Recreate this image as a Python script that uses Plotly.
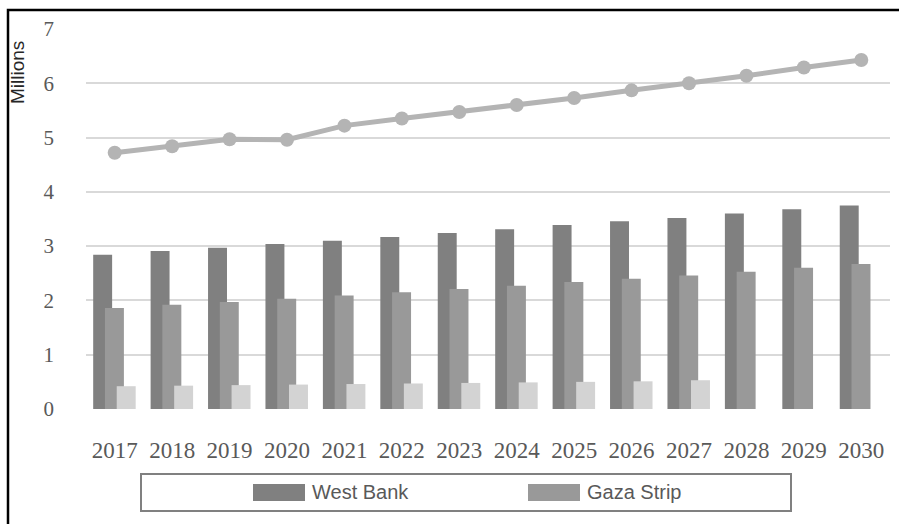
import plotly.graph_objects as go

# Population projections (millions)
years = [2017, 2018, 2019, 2020, 2021, 2022, 2023, 2024, 2025, 2026, 2027, 2028, 2029, 2030]
west_bank = [2.84, 2.91, 2.97, 3.04, 3.10, 3.17, 3.24, 3.31, 3.39, 3.46, 3.52, 3.60, 3.68, 3.75]
gaza_strip = [1.86, 1.92, 1.97, 2.03, 2.09, 2.15, 2.21, 2.27, 2.34, 2.40, 2.46, 2.53, 2.60, 2.67]
jerusalem_j1 = [0.42, 0.43, 0.44, 0.45, 0.46, 0.47, 0.48, 0.49, 0.50, 0.51, 0.53, None, None, None]
total = [4.72, 4.84, 4.97, 4.96, 5.22, 5.35, 5.47, 5.60, 5.73, 5.87, 6.00, 6.14, 6.29, 6.43]
y_ticks = [0, 1, 2, 3, 4, 5, 6, 7]

C_WB = "#808080"
C_GAZA = "#999999"
C_J1 = "#d3d3d3"
C_TOTAL = "#b4b4b4"
TEXT = "#595959"

W, H = 899, 524
L, R, T, B = 86, 9, 29, 115
PW, PH = W - L - R, H - T - B


def px_x(p):
    return (p - L) / PW


def px_y(p):
    return (H - B - p) / PH


fig = go.Figure()
bar_w = 0.33
for vals, col, off, name in [
    (west_bank, C_WB, -0.375, "West Bank"),
    (gaza_strip, C_GAZA, -0.17, "Gaza Strip"),
    (jerusalem_j1, C_J1, 0.035, "J1"),
]:
    fig.add_trace(go.Bar(
        x=years, y=vals, name=name, width=bar_w, offset=off,
        marker=dict(color=col, line=dict(width=0)),
        showlegend=False,
    ))

fig.add_trace(go.Scatter(
    x=years, y=total, name="Total", mode="lines+markers",
    line=dict(color=C_TOTAL, width=5),
    marker=dict(color=C_TOTAL, size=14),
    showlegend=False,
))

shapes = [
    # outer frame
    dict(type="rect", xref="paper", yref="paper",
         x0=px_x(8), x1=px_x(905), y0=px_y(530), y1=px_y(10),
         line=dict(color="black", width=2.5), layer="below"),
    # legend box
    dict(type="rect", xref="paper", yref="paper",
         x0=px_x(141), x1=px_x(791), y0=px_y(511), y1=px_y(474),
         line=dict(color="#808080", width=2), fillcolor="white"),
]
annotations = [
    dict(text="Millions", xref="paper", yref="paper", x=px_x(17), y=px_y(73),
         textangle=-90, showarrow=False, xanchor="center", yanchor="middle",
         font=dict(family="Liberation Sans, Arial", size=19, color="#262626")),
]

legend_items = [("West Bank", C_WB, 253), ("Gaza Strip", C_GAZA, 528)]
for label, col, sx in legend_items:
    shapes.append(dict(type="rect", xref="paper", yref="paper",
                       x0=px_x(sx), x1=px_x(sx + 52), y0=px_y(501), y1=px_y(484),
                       line=dict(width=0), fillcolor=col))
    annotations.append(dict(text=label, xref="paper", yref="paper",
                            x=px_x(sx + 57), y=px_y(492), showarrow=False,
                            xanchor="left", yanchor="middle",
                            font=dict(family="Liberation Sans, Arial", size=20, color=TEXT)))

fig.update_layout(
    width=W, height=H,
    margin=dict(l=L, r=R, t=T, b=B),
    paper_bgcolor="white", plot_bgcolor="white",
    barmode="overlay",
    shapes=shapes, annotations=annotations,
    xaxis=dict(
        range=[years[0] - 0.5, years[-1] + 0.5],
        tickmode="array", tickvals=years, ticktext=[str(y) for y in years],
        showgrid=False, zeroline=False, showline=False,
        ticks="", ticklabelstandoff=25,
        tickfont=dict(family="Liberation Serif, Times New Roman", size=23, color=TEXT),
    ),
    yaxis=dict(
        range=[0, 7], tickvals=y_ticks,
        showgrid=True, gridcolor="#d9d9d9", gridwidth=1.5,
        zeroline=False, showline=False, ticks="", ticklabelstandoff=31,
        tickfont=dict(family="Liberation Serif, Times New Roman", size=21, color=TEXT),
    ),
)

fig.write_html("out.html")
